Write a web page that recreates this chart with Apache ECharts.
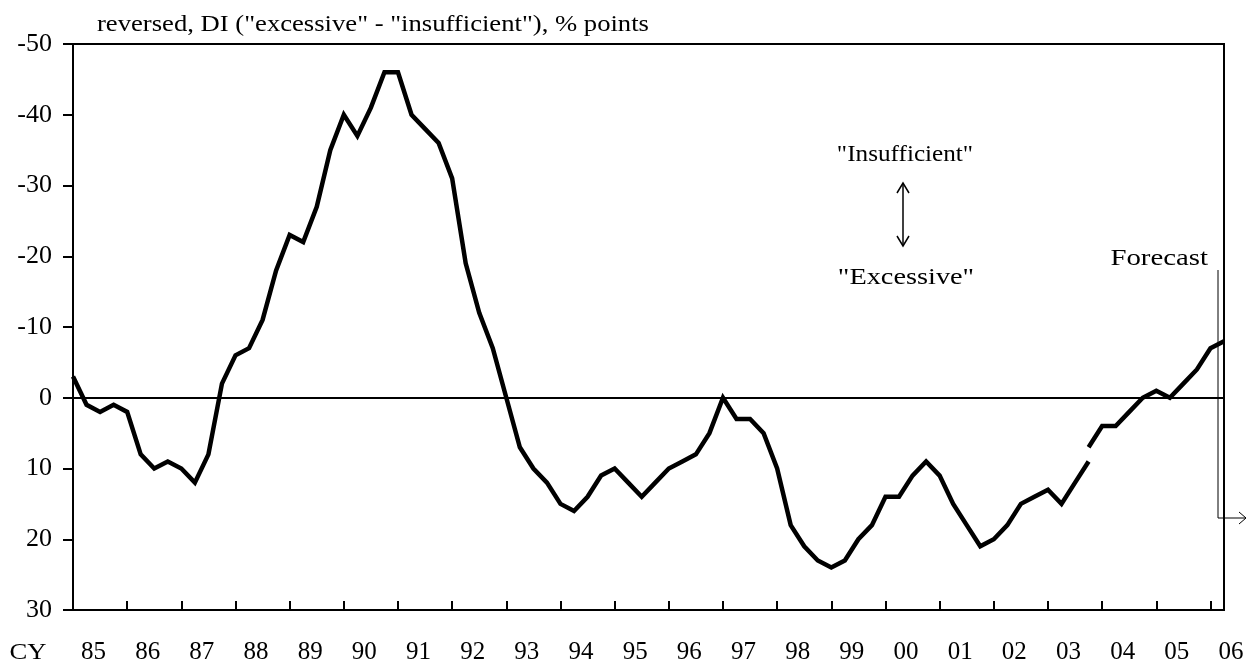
<!DOCTYPE html>
<html>
<head>
<meta charset="utf-8">
<script src="https://cdn.jsdelivr.net/npm/echarts@6/dist/echarts.min.js"></script>
<style>
html,body{margin:0;padding:0;background:#fff;}
#chart{width:1247px;height:665px;}
</style>
</head>
<body>
<div id="chart"></div>
<script>
// ---- data ----
const yearLabels = ['85','86','87','88','89','90','91','92','93','94','95','96','97','98','99','00','01','02','03','04','05','06'];
const quarterNames = ['Q1','Q2','Q3','Q4'];
// quarterly DI, reversed axis; old sample basis (85Q1 .. 03Q4)
const oldBasis = [
  -3, 1, 2, 1,      // 85
  2, 8, 10, 9,      // 86
  10, 12, 8, -2,    // 87
  -6, -7, -11, -18, // 88
  -23, -22, -27, -35, // 89
  -40, -37, -41, -46, // 90
  -46, -40, -38, -36, // 91
  -31, -19, -12, -7,  // 92
  0, 7, 10, 12,     // 93
  15, 16, 14, 11,   // 94
  10, 12, 14, 12,   // 95
  10, 9, 8, 5,      // 96
  0, 3, 3, 5,       // 97
  10, 18, 21, 23,   // 98
  24, 23, 20, 18,   // 99
  14, 14, 11, 9,    // 00
  11, 15, 18, 21,   // 01
  20, 18, 15, 14,   // 02
  13, 15, 12, 9     // 03
];
// new sample basis (03Q4 .. 06Q2, last point forecast)
const newBasisStart = 75;
const newBasis = [7, 4, 4, 2, 0, -1, 0, -2, -4, -7, -8];
const yTicks = {min: -50, max: 30, step: 10};

const quarters = [];
yearLabels.forEach(y => quarterNames.forEach(q => quarters.push(y + q)));
quarters.length = newBasisStart + newBasis.length; // through 06Q2

const newSeries = new Array(newBasisStart).fill(null).concat(newBasis);

const FONT = 'Liberation Serif, Times New Roman, serif';
const chart = echarts.init(document.getElementById('chart'), null, {renderer: 'canvas'});

const textEl = (txt, x, y, align, sx) => ({
  type: 'text', x: x, y: y, scaleX: sx || 1.11, silent: true,
  style: {text: txt, x: 0, y: 0, fill: '#000', font: '24px ' + FONT, textAlign: align || 'center', textVerticalAlign: 'middle'}
});
const lineEl = (pts, w) => ({
  type: 'polyline', silent: true,
  shape: {points: pts},
  style: {stroke: '#000', lineWidth: w, fill: null}
});

chart.setOption({
  animation: false,
  backgroundColor: '#fff',
  grid: {left: 73, right: 23, top: 44, bottom: 55, show: true, borderColor: '#000', borderWidth: 2, containLabel: false},
  xAxis: {
    type: 'category',
    data: quarters,
    boundaryGap: false,
    axisLine: {onZero: false, lineStyle: {color: '#000', width: 2}},
    axisTick: {show: true, inside: true, length: 9, lineStyle: {color: '#000', width: 2},
      interval: (i) => i % 4 === 0},
    axisLabel: {
      interval: (i) => i % 4 === 1,
      formatter: (v) => v.slice(0, 2),
      color: '#000', fontFamily: FONT, fontSize: 25, margin: 30,
      padding: [0, 0, 0, 14]
    },
    splitLine: {show: false}
  },
  yAxis: {
    type: 'value',
    inverse: true,
    min: yTicks.min, max: yTicks.max, interval: yTicks.step,
    axisLine: {show: true, onZero: false, lineStyle: {color: '#000', width: 2}},
    axisTick: {show: true, inside: false, length: 10, lineStyle: {color: '#000', width: 2}},
    axisLabel: {color: '#000', fontFamily: FONT, fontSize: 26, margin: 21},
    splitLine: {show: false}
  },
  series: [
    {
      type: 'line', data: oldBasis, symbol: 'none', connectNulls: false,
      lineStyle: {color: '#000', width: 4.5, join: 'miter'},
      z: 3,
      markLine: {
        silent: true, symbol: 'none', animation: false,
        label: {show: false},
        lineStyle: {color: '#000', width: 2, type: 'solid'},
        data: [{yAxis: 0}]
      }
    },
    {
      type: 'line', data: newSeries, symbol: 'none', connectNulls: false,
      lineStyle: {color: '#000', width: 4.5, join: 'miter'},
      z: 3
    }
  ],
  graphic: [
    textEl('reversed, DI ("excessive" - "insufficient"), % points', 97, 25, 'left'),
    textEl('CY', 28, 653),
    textEl('"Insufficient"', 905, 155, 'center', 1.05),
    textEl('"Excessive"', 906, 278, 'center', 1.18),
    textEl('Forecast', 1208, 259, 'right', 1.2),
    lineEl([[903, 183], [903, 246]], 1.5),
    lineEl([[897, 193], [903, 183], [909, 193]], 1.5),
    lineEl([[897, 236], [903, 246], [909, 236]], 1.5),
    lineEl([[1218, 270], [1218, 518], [1246, 518]], 1),
    lineEl([[1239, 512], [1246, 518], [1239, 524]], 1)
  ]
});
</script>
</body>
</html>
